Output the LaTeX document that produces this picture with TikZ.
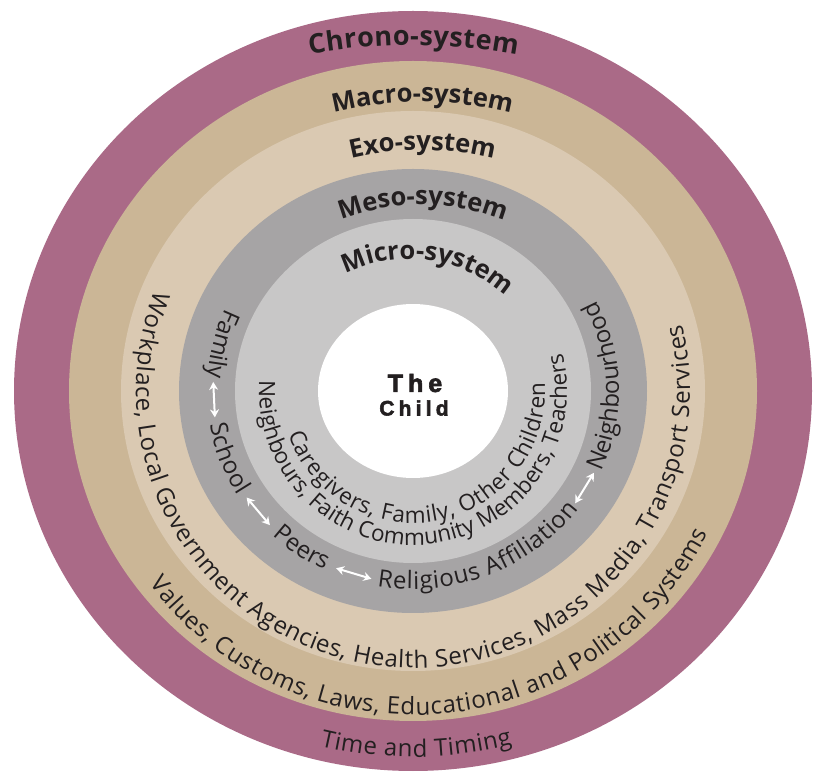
\documentclass[tikz,border=0pt]{standalone}
\usepackage{fontspec}
\setmainfont{Open Sans}
\newfontfamily\childfont{Liberation Sans}[LetterSpace=20, BoldFeatures={FakeBold=2.5}]
\usetikzlibrary{decorations.text,arrows.meta}
\definecolor{chrono}{HTML}{AA6A87}
\definecolor{macro}{HTML}{CBB696}
\definecolor{exo}{HTML}{DAC9B2}
\definecolor{meso}{HTML}{A6A4A5}
\definecolor{micro}{HTML}{C8C7C7}
\definecolor{ink}{HTML}{231F20}
\newcommand\bodyfont{\fontsize{24}{24}\selectfont}
\newcommand\microfont{\fontsize{22.5}{22.5}\selectfont}
\newcommand\titlefont{\fontsize{25.5}{25.5}\selectfont\bfseries}
\newcommand\bigtitlefont{\fontsize{27}{27}\selectfont\bfseries}
\tikzset{
  ring/.style={fill=#1, draw=none},
  fittext/.style={decorate, decoration={text along path, text align=fit to path, text color=ink, text={|\bodyfont|#1}}},
  microtext/.style={decorate, decoration={text along path, text align=fit to path, text color=ink, text={|\microfont|#1}}},
  titletext/.style={decorate, decoration={text along path, text align=fit to path, text color=ink, text={|\titlefont|#1}}},
  bigtitletext/.style={decorate, decoration={text along path, text align=fit to path, text color=ink, text={|\bigtitlefont|#1}}},
  mesoarrow/.style={draw=white, line width=2pt, <->, >={Stealth[length=8pt,width=9pt]}},
  childtext/.style={text=ink, inner sep=0pt},
}
\begin{document}
\begin{tikzpicture}[x=1pt,y=1pt]
\useasboundingbox (0,0) rectangle (820,772);
\coordinate (C) at (413,381);
% rings
\fill[ring=chrono] (C) ellipse[x radius=399pt, y radius=380pt];
\fill[ring=macro] (C) ellipse[x radius=344pt, y radius=330pt];
\fill[ring=exo] (C) ellipse[x radius=292pt, y radius=280pt];
\fill[ring=meso] (C) ellipse[x radius=234pt, y radius=222pt];
\fill[ring=micro] (C) ellipse[x radius=178pt, y radius=172pt];
\fill[ring=white] (C) ellipse[x radius=95pt, y radius=87pt];
% titles
\path[bigtitletext={Chrono-system}, shift={(413,150)}] (100.3:577pt) arc[start angle=100.3, end angle=79.6, radius=577pt];
\path[titletext={Macro-system}, shift={(421,304)}] (103.8:366pt) arc[start angle=103.8, end angle=76.2, radius=366pt];
\path[titletext={Exo-system}, shift={(422,321)}] (103.6:301pt) arc[start angle=103.6, end angle=76.4, radius=301pt];
\path[titletext={Meso-system}, shift={(421,340)}] (110.6:227pt) arc[start angle=110.6, end angle=69.9, radius=227pt];
\path[titletext={Micro-system}, shift={(409,368)}] (116:145pt) arc[start angle=116, end angle=53, radius=145pt];
% chrono
\path[fittext={Time and Timing}, shift={(C)}] (256:384pt and 366pt) arc[start angle=256, end angle=285, x radius=384pt, y radius=366pt];
% macro
\path[fittext={Values, Customs, Laws, Educational and Political Systems}, shift={(C)}] (216.5:328pt and 324pt) arc[start angle=216.5, end angle=334, x radius=328pt, y radius=324pt];
% exo
\path[fittext={Workplace, Local Government Agencies, Health Services, Mass Media, Transport Services}, shift={(C)}] (158.8:277pt) arc[start angle=158.8, end angle=374, radius=277pt];
% meso
\path[fittext={Family}, shift={(C)}] (155.3:206pt and 198pt) arc[start angle=155.3, end angle=175.8, x radius=206pt, y radius=198pt];
\path[fittext={School}, shift={(C)}] (189.7:206pt and 198pt) arc[start angle=189.7, end angle=211.8, x radius=206pt, y radius=198pt];
\path[fittext={Peers}, shift={(C)}] (227:206pt and 198pt) arc[start angle=227, end angle=244, x radius=206pt, y radius=198pt];
\path[fittext={Religious Affiliation}, shift={(C)}] (260:206pt and 198pt) arc[start angle=260, end angle=323.5, x radius=206pt, y radius=198pt];
\path[fittext={Neighbourhood}, shift={(C)}] (335.9:206pt and 198pt) arc[start angle=335.9, end angle=385.8, x radius=206pt, y radius=198pt];
% meso arrows
\path (C) ++(177.3:200pt and 192pt) coordinate (a1s);
\path (C) ++(187.9:200pt and 192pt) coordinate (a1e);
\path (C) ++(213.7:200pt and 192pt) coordinate (a2s);
\path (C) ++(224.3:200pt and 192pt) coordinate (a2e);
\path (C) ++(247.4:200pt and 192pt) coordinate (a3s);
\path (C) ++(258.0:200pt and 192pt) coordinate (a3e);
\path (C) ++(324.2:200pt and 192pt) coordinate (a4s);
\path (C) ++(334.8:200pt and 192pt) coordinate (a4e);
\draw[mesoarrow] (a1s) -- (a1e);
\draw[mesoarrow] (a2s) -- (a2e);
\draw[mesoarrow] (a3s) -- (a3e);
\draw[mesoarrow] (a4s) -- (a4e);
% micro
\path[microtext={Neighbours, Faith Community Members, Teachers}, shift={(C)}] (176.2:154pt) arc[start angle=176.2, end angle=374.2, radius=154pt];
\path[microtext={Caregivers, Family, Other Children}, shift={(C)}] (199:132pt) arc[start angle=199, end angle=363.6, radius=132pt];
% child
\node[childtext, font=\childfont\fontsize{25}{25}\selectfont\bfseries] (the) at (415,389) {The};
\node[childtext, font=\childfont\fontsize{21}{21}\selectfont\bfseries] (child) at (414,364) {Child};
\end{tikzpicture}
\end{document}
